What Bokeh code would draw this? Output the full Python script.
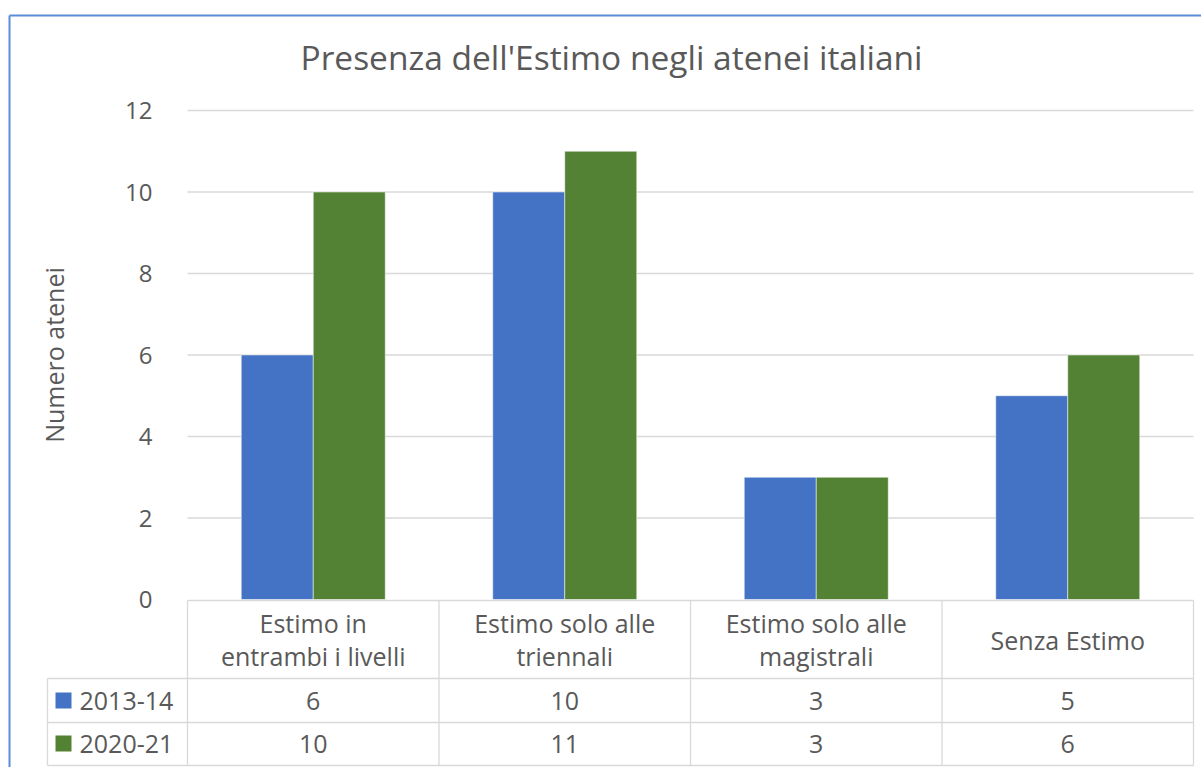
from bokeh.plotting import figure
from bokeh.models import Range1d, FixedTicker, Label
from bokeh.core.properties import value
from bokeh.embed import file_html
from bokeh.resources import INLINE
import numpy as np

# ---------------- data ----------------
title = "Presenza dell'Estimo negli atenei italiani"
categories = ["Estimo in\nentrambi i livelli", "Estimo solo alle\ntriennali",
              "Estimo solo alle\nmagistrali", "Senza Estimo"]
series_names = ["2013-14", "2020-21"]
values_2013 = [6, 10, 3, 5]
values_2020 = [10, 11, 3, 6]
colors = ["#4472C4", "#548235"]
y_ticks = [0, 2, 4, 6, 8, 10, 12]
y_label = "Numero atenei"

# ---------------- layout (pixels) ----------------
W, H = 1201, 767
PX_X0 = 187      # left edge of first category column
PX_CAT = 251.5   # width of a category column
PX_Y0 = 599      # y pixel of value 0
PX_UNIT = 40.75  # pixels per unit value

def xd(px):
    return (px - PX_X0) / PX_CAT

def yd(py):
    return (PX_Y0 - py) / PX_UNIT

FONT = "Open Sans"
TXT = "#595959"
GRID = "#d9d9d9"
FS = "25px"

p = figure(width=W, height=H, x_range=Range1d(xd(0), xd(W)), y_range=Range1d(yd(H), yd(0)),
           output_backend="svg", toolbar_location=None, min_border=0, x_axis_type=None)
p.grid.visible = False
p.outline_line_color = None
p.background_fill_color = "white"
p.border_fill_color = "white"

# y axis placed at the left edge of the plot area
ya = p.yaxis[0]
ya.fixed_location = 0
ya.ticker = FixedTicker(ticks=y_ticks)
ya.bounds = (min(y_ticks), max(y_ticks))
ya.axis_line_color = None
ya.major_tick_line_color = None
ya.minor_tick_line_color = None
ya.major_label_standoff = 29
ya.major_label_text_font = FONT
ya.major_label_text_font_size = "24px"
ya.major_label_text_color = TXT
ya.axis_label = y_label
ya.axis_label_text_font = FONT
ya.axis_label_text_font_size = "25px"
ya.axis_label_text_font_style = "normal"
ya.axis_label_text_color = TXT
ya.axis_label_standoff = 51

n = len(categories)
idx = np.arange(n)
centers = idx + 0.5
bw = 72 / PX_CAT

# gridlines (inside plot area only)
gt = [t for t in y_ticks if t > 0]
p.segment(x0=[0] * len(gt), x1=[n] * len(gt), y0=gt, y1=gt, line_color=GRID, line_width=1.3)

# bars
p.vbar(x=centers - bw / 2, top=values_2013, width=bw, bottom=0, fill_color=colors[0],
       line_color="white", line_width=0.5)
p.vbar(x=centers + bw / 2, top=values_2020, width=bw, bottom=0, fill_color=colors[1],
       line_color="white", line_width=0.5)

# data table lines
row_top = yd(PX_Y0 + 1)
row_h1 = yd(678)
row_h2 = yd(722)
row_bot = yd(765)
leg_left = xd(47)
hx0 = [0, leg_left, leg_left, leg_left]
hx1 = [n, n, n, n]
hy = [row_top, row_h1, row_h2, row_bot]
p.segment(x0=hx0, x1=hx1, y0=hy, y1=hy, line_color=GRID, line_width=1.3)
vx = [leg_left] + list(range(n + 1))
vy0 = [row_h1] + [row_top] * (n + 1)
p.segment(x0=vx, x1=vx, y0=vy0, y1=[row_bot] * len(vx), line_color=GRID, line_width=1.3)

# header row
p.text(x=centers, y=[yd(639)] * n, text=categories, text_align="center", text_baseline="middle",
       text_font=value(FONT), text_font_size=FS, text_color=TXT, text_line_height=0.98)

# value rows
row_y = [yd(700), yd(743)]
for vals, ry in zip([values_2013, values_2020], row_y):
    p.text(x=centers, y=[ry] * n, text=[str(v) for v in vals], text_align="center",
           text_baseline="middle", text_font=value(FONT), text_font_size=FS, text_color=TXT)

# legend keys
p.scatter(x=[xd(63)] * 2, y=row_y, marker="square", size=16, fill_color=colors, line_color=None)
p.text(x=[xd(79)] * 2, y=row_y, text=series_names, text_align="left", text_baseline="middle",
       text_font=value(FONT), text_font_size=FS, text_color=TXT)

# title
p.add_layout(Label(x=xd(611), y=yd(56), text=title, text_align="center", text_baseline="middle",
                   text_font=FONT, text_font_size="33.5px", text_color=TXT))

# chart border (left and top visible)
bl, bt = xd(9), yd(15)
p.segment(x0=[bl, bl], x1=[bl, xd(W + 5)], y0=[yd(H + 5), bt], y1=[bt, bt],
          line_color="#5b8bd9", line_width=2)

open("out.html", "w").write(file_html(p, INLINE))
